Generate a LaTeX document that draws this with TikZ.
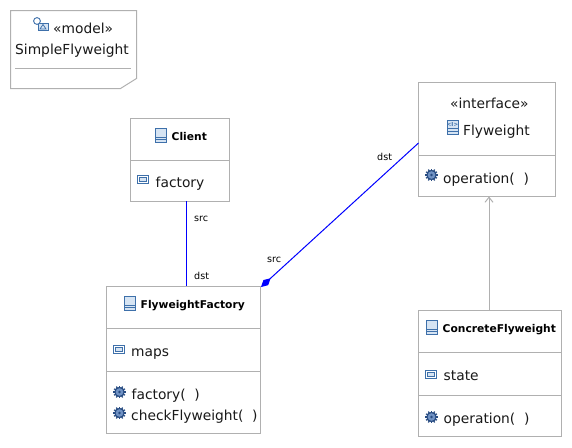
\documentclass[tikz,border=0pt]{standalone}
\usepackage{fontspec}
\setmainfont{DejaVu Sans}
\usetikzlibrary{arrows.meta}
\definecolor{boxgray}{RGB}{176,176,176}
\definecolor{iconblue}{RGB}{62,112,170}
\definecolor{iconfill}{RGB}{214,228,243}
\definecolor{geardark}{RGB}{40,76,130}
\definecolor{gearmid}{RGB}{112,146,196}
\tikzset{
  umlbox/.style={draw=boxgray,fill=white,line width=1pt,inner sep=0pt,outer sep=0pt,anchor=north west},
  divider/.style={draw=boxgray,line width=1pt},
  label/.style={inner sep=0pt,font=\fontsize{13.8}{15}\selectfont,text=black!90,anchor=base west},
  boldlabel/.style={inner sep=0pt,font=\fontsize{10.7}{14}\selectfont\bfseries,anchor=base west},
  endlabel/.style={inner sep=0pt,font=\fontsize{9.6}{11}\selectfont,text=black,anchor=base west},
  assoc/.style={draw=blue,line width=1pt},
  classicon/.pic={
    \draw [iconblue,fill=iconfill,line width=0.9pt] (-5.5,-7) rectangle (5.5,7);
    \draw [iconblue,line width=0.9pt] (-5.5,2) -- (5.5,2) (-5.5,4.5) -- (5.5,4.5);
  },
  attricon/.pic={
    \draw [iconblue,fill=white,line width=0.9pt] (-5.5,-4) rectangle (5.5,4);
    \draw [iconblue,fill=iconfill,line width=0.7pt] (-3.5,-2) rectangle (3.5,2);
  },
  gearicon/.pic={
    \foreach \a in {0,30,...,330}
      \draw [geardark,line width=1.3pt] (0,0) -- (\a:6.3);
    \fill [geardark] (0,0) circle (5.2);
    \fill [gearmid] (0,0) circle (3.8);
    \fill [geardark] (0,0) circle (1.4);
  },
  ifaceicon/.pic={
    \draw [iconblue,fill=iconfill,line width=0.9pt] (-5.5,-7) rectangle (5.5,7);
    \draw [iconblue,line width=0.9pt] (-5.5,1) -- (5.5,1) (-5.5,4) -- (5.5,4);
    \node [inner sep=0pt,text=iconblue,font=\fontsize{5.5}{5.5}\selectfont\bfseries] (ifaceglyph) at (0,-3) {<I>};
  },
  modelicon/.pic={
    \draw [iconblue,fill=iconfill,line width=0.9pt] (-3,-1) rectangle (7,6);
    \draw [iconblue,fill=white,line width=0.9pt] (-4,-3) circle (3.4);
    \draw [iconblue,line width=0.7pt] (-1,5) -- (2,0.5) -- (5,5) -- cycle;
  }
}
\begin{document}
\begin{tikzpicture}[x=1pt,y=-1pt]
\useasboundingbox (0,0) rectangle (572,447);

% model note
\draw [umlbox] (10.5,10.5) -- (136.5,10.5) -- (136.5,78.5) -- (120.5,88.5) -- (10.5,88.5) -- cycle;
\draw [divider] (15,68.5) -- (131,68.5);
\pic at (41,24) {modelicon};
\node [label] (modelstereo) at (53,33) {«model»};
\node [label] (modelname) at (15,54) {SimpleFlyweight};

% classes
\node [umlbox,minimum width=99pt,minimum height=83pt] (client) at (130.5,118.5) {};
\node [umlbox,minimum width=153.5pt,minimum height=147pt] (factory) at (106.5,286.5) {};
\node [umlbox,minimum width=137pt,minimum height=113.5pt] (flyweight) at (418.5,82.5) {};
\node [umlbox,minimum width=143pt,minimum height=126pt] (concrete) at (418.5,310.5) {};

% compartment lines
\foreach \b/\y in {client/160.5,factory/328.5,factory/371.5,flyweight/155.5,concrete/352.5,concrete/395.5}
  \draw [divider] (\b.west |- 0,\y) -- (\b.east |- 0,\y);

% class titles
\pic at (161,135) {classicon};
\node [boldlabel] (clientname) at (171.5,140) {Client};
\pic at (129.5,303) {classicon};
\node [boldlabel] (factoryname) at (140.5,308) {FlyweightFactory};
\pic at (432,327) {classicon};
\node [boldlabel] (concretename) at (442.5,332) {ConcreteFlyweight};
\node [label] (ifacestereo) at (450,108) {«interface»};
\pic at (452.5,127) {ifaceicon};
\node [label] (ifacename) at (463,135) {Flyweight};

% attributes
\pic at (143,179) {attricon};
\node [label] (clientattr) at (155.5,187.5) {factory};
\pic at (119,349) {attricon};
\node [label] (factoryattr) at (131,356) {maps};
\pic at (431,374) {attricon};
\node [label] (concreteattr) at (443.5,380) {state};

% operations
\pic at (119.5,392) {gearicon};
\node [label] (factoryop) at (131.5,399) {factory(\ \ )};
\pic at (119.5,413) {gearicon};
\node [label] (checkop) at (131,420) {checkFlyweight(\ \ )};
\pic at (431.5,175) {gearicon};
\node [label] (ifaceop) at (443,183) {operation(\ \ )};
\pic at (431.5,417) {gearicon};
\node [label] (concreteop) at (443.5,423) {operation(\ \ )};

% connectors
\coordinate (clientend) at (186,201);
\coordinate (factoryend) at (186,286);
\draw [assoc] (clientend) -- (factoryend);
\coordinate (diamondend) at (261,287);
\coordinate (ifaceend) at (418.5,143);
\draw [assoc,{Diamond[fill=blue,length=13pt,width=7pt]}-] (diamondend) -- (ifaceend);
\coordinate (concreteend) at (489,310);
\coordinate (ifacebottom) at (489,196.5);
\draw [draw=boxgray,line width=1pt,-{Straight Barb[length=5pt,width=8pt]}] (concreteend) -- (ifacebottom);

% role labels
\node [endlabel] (clientsrc) at (194,221) {src};
\node [endlabel] (factorydst) at (194,279) {dst};
\node [endlabel] (factorysrc) at (267,262) {src};
\node [endlabel] (ifacedst) at (377,160) {dst};
\end{tikzpicture}
\end{document}
